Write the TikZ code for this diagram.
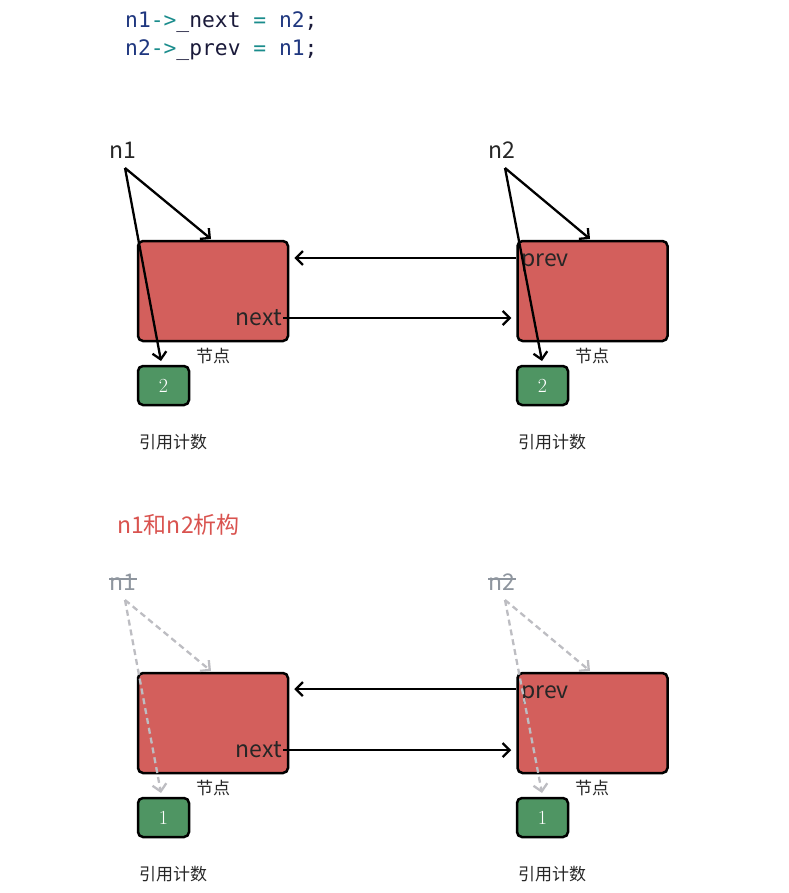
\documentclass[tikz,border=0pt]{standalone}
\usepackage{fontspec}
\usepackage{tikz}
\usetikzlibrary{arrows.meta, positioning, calc}
\setmonofont{DejaVu Sans Mono}
\newfontfamily\cjk{Noto Sans CJK SC}
\definecolor{NodeRed}{HTML}{D35F5C}
\definecolor{CntGreen}{HTML}{4F9563}
\definecolor{TitleRed}{HTML}{D9534F}
\definecolor{CodeNavy}{HTML}{1F377F}
\definecolor{CodeTeal}{HTML}{1A8C8C}
\definecolor{CodeDark}{HTML}{1A1A3A}
\definecolor{FadeGray}{HTML}{8E959E}
\definecolor{FadeLine}{HTML}{BDBDC2}
\tikzset{
  nodebox/.style={draw=black, line width=2.5pt, fill=NodeRed, rounded corners=5pt,
    minimum width=150pt, minimum height=100pt, inner sep=0pt},
  cntbox/.style={draw=black, line width=2.5pt, fill=CntGreen, rounded corners=5pt,
    minimum width=51pt, minimum height=39pt, inner sep=0pt, text=white, font=\fontsize{20}{22}\selectfont},
  lbl/.style={font=\cjk\fontsize{23}{27}\selectfont, text=black!85, inner sep=1pt},
  small/.style={font=\cjk\fontsize{17}{20}\selectfont, text=black!85, inner sep=0pt},
  link/.style={line width=2.3pt, -{Straight Barb[length=7pt,width=14pt,line width=2.3pt]}},
  fade/.style={line width=2.3pt, FadeLine, dash pattern=on 6pt off 4pt,
    -{Straight Barb[length=7pt,width=14pt,line width=2.3pt]}},
}
\begin{document}
\begin{tikzpicture}[x=1pt, y=-1pt]
\useasboundingbox (0,0) rectangle (788,893);
% Code lines
\node[anchor=west, inner sep=0pt, font=\ttfamily\fontsize{21.3}{24}\selectfont] (code1) at (125,22)
  {\textcolor{CodeNavy}{n1}\textcolor{CodeTeal}{->}\textcolor{CodeDark}{\_next} \textcolor{CodeTeal}{=} \textcolor{CodeNavy}{n2}\textcolor{CodeDark}{;}};
\node[anchor=west, inner sep=0pt, font=\ttfamily\fontsize{21.3}{24}\selectfont] (code2) at (125,50)
  {\textcolor{CodeNavy}{n2}\textcolor{CodeTeal}{->}\textcolor{CodeDark}{\_prev} \textcolor{CodeTeal}{=} \textcolor{CodeNavy}{n1}\textcolor{CodeDark}{;}};
% Before: boxes
\node[nodebox] (na) at (213,291) {};
\node[nodebox] (nb) at (592.5,291) {};
\node[cntbox] (ca) at (163.5,385.5) {2};
\node[cntbox] (cb) at (542.5,385.5) {2};
\node[small] (ta) at (213,356) {节点};
\node[small] (tb) at (592,356) {节点};
\node[small] (ra) at (173,442) {引用计数};
\node[small] (rb) at (552,442) {引用计数};
\node[lbl, anchor=east] (nexta) at (283,318) {next};
\node[lbl, anchor=west] (prevb) at (520,263) {prev};
% Before: pointers
\node[lbl] (pa) at (123,150) {n1};
\node[lbl] (pb) at (502,150) {n2};
\coordinate (pa0) at (125,168);
\coordinate (pb0) at (505,168);
\coordinate (pa1) at (211,239);
\coordinate (pb1) at (590,239);
\coordinate (pa2) at (161,361);
\coordinate (pb2) at (542,361);
\draw[link] (pa0) -- (pa1);
\draw[link] (pa0) -- (pa2);
\draw[link] (pb0) -- (pb1);
\draw[link] (pb0) -- (pb2);
\draw[link, shorten >=5pt] (nexta.east) -- (nexta.east -| nb.west);
\draw[link, shorten >=5pt] ($(nb.west |- prevb)+(0,-5)$) -- ($(na.east |- prevb)+(0,-5)$);
% After
\node[anchor=west, inner sep=0pt, font=\cjk\fontsize{23}{27}\selectfont, text=TitleRed] (title) at (117,525) {n1和n2析构};
\node[nodebox] (nc) at (213,723) {};
\node[nodebox] (nd) at (592.5,723) {};
\node[cntbox] (cc) at (163.5,817.5) {1};
\node[cntbox] (cd) at (542.5,817.5) {1};
\node[small] (tc) at (213,788) {节点};
\node[small] (td) at (592,788) {节点};
\node[small] (rc) at (173,874) {引用计数};
\node[small] (rd) at (552,874) {引用计数};
\node[lbl, anchor=east] (nextc) at (283,750) {next};
\node[lbl, anchor=west] (prevd) at (520,695) {prev};
\node[lbl, text=FadeGray] (pc) at (123,582) {n1};
\node[lbl, text=FadeGray] (pd) at (502,582) {n2};
\draw[FadeGray, line width=1.4pt] ($(pc.west)+(1,-3)$) -- ($(pc.east)+(-1,-3)$);
\draw[FadeGray, line width=1.4pt] ($(pd.west)+(1,-3)$) -- ($(pd.east)+(-1,-3)$);
\coordinate (pc0) at (125,600);
\coordinate (pd0) at (505,600);
\coordinate (pc1) at (211,671);
\coordinate (pd1) at (590,671);
\coordinate (pc2) at (161,793);
\coordinate (pd2) at (542,793);
\draw[fade] (pc0) -- (pc1);
\draw[fade] (pc0) -- (pc2);
\draw[fade] (pd0) -- (pd1);
\draw[fade] (pd0) -- (pd2);
\draw[link, shorten >=5pt] (nextc.east) -- (nextc.east -| nd.west);
\draw[link, shorten >=5pt] ($(nd.west |- prevd)+(0,-6)$) -- ($(nc.east |- prevd)+(0,-6)$);
\end{tikzpicture}
\end{document}
